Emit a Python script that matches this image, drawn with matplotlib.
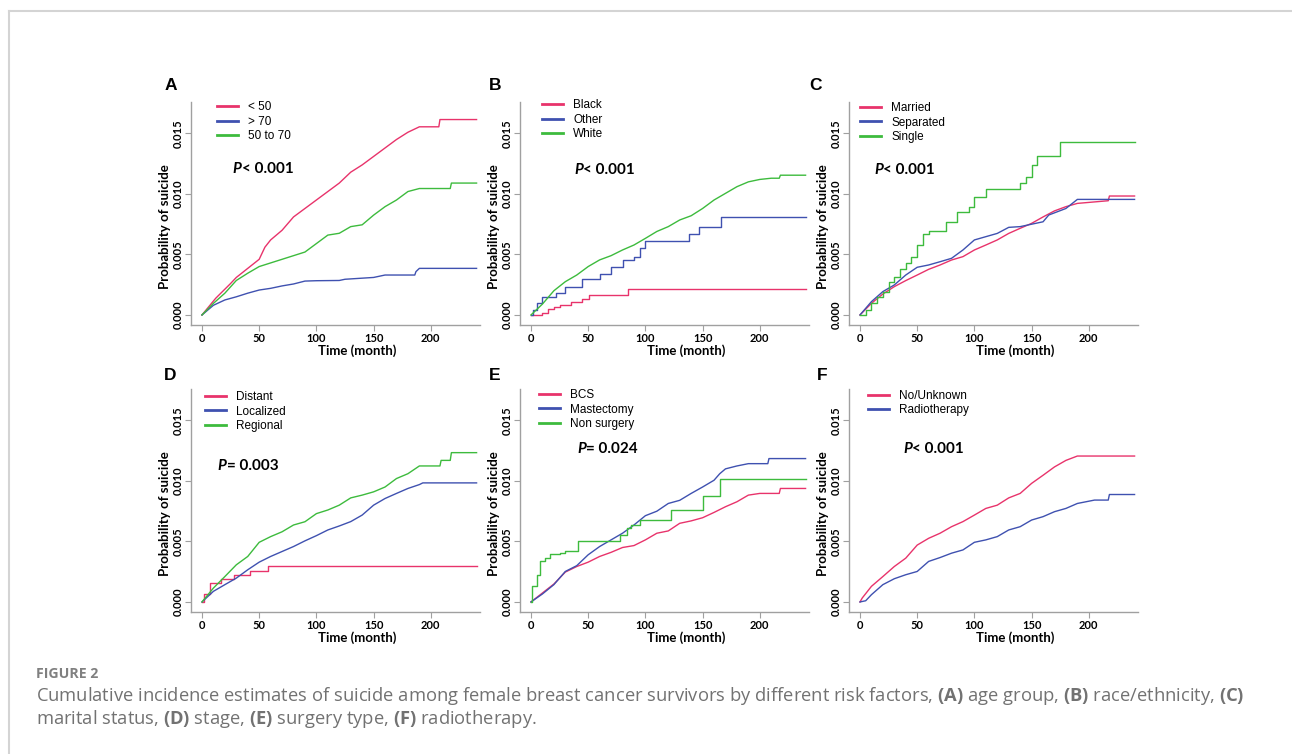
import numpy as np
import matplotlib
matplotlib.use("Agg")
import matplotlib.pyplot as plt
from matplotlib.lines import Line2D
from matplotlib.ticker import FormatStrFormatter

plt.rcParams['font.family'] = ['Lato', 'DejaVu Sans']
plt.rcParams['font.weight'] = 'bold'
plt.rcParams['mathtext.fontset'] = 'custom'
plt.rcParams['mathtext.rm'] = 'Open Sans'
plt.rcParams['mathtext.bf'] = 'Open Sans:bold'

RED = '#e8336b'
BLUE = '#3f51b0'
GREEN = '#3dbb3d'

# cumulative incidence, values in units of 0.001
# (A) age group
lt50_t = [0, 12, 25, 30, 40, 50, 55, 60, 70, 80, 90, 100, 110, 120, 130, 140, 150, 160, 170, 180, 190, 207, 208, 240]
lt50_p = [0, 1.38, 2.6, 3.1, 3.85, 4.6, 5.6, 6.2, 7.0, 8.1, 8.8, 9.5, 10.2, 10.9, 11.8, 12.4, 13.1, 13.8, 14.5, 15.1, 15.55, 15.55, 16.15, 16.15]
gt70_t = [0, 5, 10, 20, 30, 40, 50, 60, 70, 80, 90, 100, 120, 125, 150, 160, 186, 187, 190, 240]
gt70_p = [0, 0.4, 0.8, 1.24, 1.5, 1.8, 2.06, 2.2, 2.4, 2.56, 2.8, 2.83, 2.85, 2.95, 3.1, 3.3, 3.3, 3.58, 3.85, 3.85]
mid_t = [0, 10, 20, 30, 40, 50, 60, 70, 80, 90, 100, 110, 120, 130, 140, 150, 160, 170, 180, 190, 217, 218, 240]
mid_p = [0, 0.96, 1.8, 2.85, 3.45, 4.0, 4.3, 4.6, 4.9, 5.2, 5.9, 6.6, 6.75, 7.3, 7.45, 8.25, 8.95, 9.5, 10.2, 10.45, 10.45, 10.9, 10.9]

# (B) race/ethnicity
black_t = [0, 8, 10, 15, 20, 25, 35, 45, 51, 85, 240]
black_p = [0, 0, 0.2, 0.47, 0.63, 0.83, 1.1, 1.3, 1.62, 2.12, 2.12]
other_t = [0, 2, 5, 10, 22, 30, 45, 60, 70, 80, 90, 95, 100, 138, 147, 166, 240]
other_p = [0, 0.4, 1.0, 1.5, 1.85, 2.35, 3.0, 3.4, 4.0, 4.55, 4.8, 5.5, 6.15, 6.7, 7.3, 8.1, 8.1]
white_t = [0, 10, 20, 30, 40, 50, 60, 70, 80, 90, 100, 110, 120, 130, 140, 150, 160, 170, 180, 190, 200, 210, 217, 218, 240]
white_p = [0, 0.9, 2.0, 2.75, 3.3, 4.0, 4.55, 4.9, 5.37, 5.78, 6.33, 6.9, 7.3, 7.85, 8.2, 8.8, 9.5, 10.05, 10.6, 11.0, 11.2, 11.3, 11.3, 11.55, 11.55]

# (C) marital status
married_t = [0, 10, 20, 30, 40, 50, 60, 70, 80, 90, 100, 110, 120, 130, 140, 150, 160, 170, 180, 190, 217, 218, 240]
married_p = [0, 0.96, 1.73, 2.34, 2.84, 3.3, 3.77, 4.13, 4.54, 4.82, 5.37, 5.78, 6.2, 6.74, 7.16, 7.57, 8.1, 8.6, 8.95, 9.22, 9.44, 9.83, 9.83]
separated_t = [0, 10, 20, 30, 40, 50, 60, 70, 80, 90, 100, 110, 120, 130, 140, 150, 160, 165, 180, 190, 240]
separated_p = [0, 1.1, 1.93, 2.48, 3.3, 3.94, 4.13, 4.4, 4.68, 5.37, 6.2, 6.47, 6.74, 7.24, 7.3, 7.5, 7.7, 8.26, 8.8, 9.55, 9.55]
single_t = [0, 5, 10, 15, 20, 25, 30, 35, 40, 45, 50, 55, 60, 75, 85, 95, 100, 110, 140, 145, 150, 155, 175, 240]
single_p = [0, 0.4, 0.96, 1.5, 1.9, 2.75, 3.15, 3.77, 4.27, 4.8, 5.8, 6.7, 6.95, 7.7, 8.5, 8.95, 9.77, 10.45, 10.9, 11.4, 12.4, 13.1, 14.3, 14.3]

# (D) stage
distant_t = [0, 2, 7, 17, 28, 42, 58, 240]
distant_p = [0, 0.66, 1.56, 1.9, 2.2, 2.58, 3.0, 3.0]
localized_t = [0, 10, 20, 30, 40, 50, 60, 70, 80, 90, 100, 110, 120, 130, 140, 150, 160, 170, 180, 190, 193, 240]
localized_p = [0, 0.88, 1.43, 1.97, 2.66, 3.29, 3.76, 4.17, 4.58, 5.05, 5.48, 5.95, 6.28, 6.64, 7.18, 8.0, 8.55, 8.97, 9.38, 9.7, 9.84, 9.84]
regional_t = [0, 10, 20, 30, 40, 50, 60, 70, 80, 90, 100, 110, 120, 130, 140, 150, 160, 170, 180, 190, 208, 209, 217, 218, 240]
regional_p = [0, 1.15, 2.1, 3.07, 3.76, 4.93, 5.4, 5.8, 6.36, 6.63, 7.3, 7.6, 8.0, 8.6, 8.83, 9.1, 9.5, 10.2, 10.6, 11.24, 11.24, 11.7, 11.7, 12.34, 12.34]

# (E) surgery type
bcs_t = [0, 10, 20, 30, 40, 50, 60, 70, 80, 90, 100, 110, 120, 130, 140, 150, 160, 170, 180, 190, 200, 217, 218, 240]
bcs_p = [0, 0.74, 1.48, 2.47, 2.93, 3.29, 3.76, 4.1, 4.5, 4.66, 5.13, 5.68, 5.87, 6.5, 6.7, 6.96, 7.4, 7.87, 8.28, 8.83, 8.97, 8.97, 9.38, 9.38]
mast_t = [0, 10, 20, 30, 40, 50, 60, 70, 80, 90, 100, 110, 120, 130, 140, 150, 160, 165, 170, 180, 190, 207, 208, 240]
mast_p = [0, 0.66, 1.43, 2.52, 3.0, 3.9, 4.58, 5.13, 5.68, 6.36, 7.13, 7.5, 8.14, 8.4, 8.97, 9.5, 10.06, 10.6, 11.0, 11.24, 11.43, 11.43, 11.85, 11.85]
nonsurg_t = [0, 1, 5, 8, 12, 17, 25, 30, 41, 78, 84, 87, 95, 122, 150, 165, 240]
nonsurg_p = [0, 1.3, 2.25, 3.35, 3.6, 3.95, 4.05, 4.2, 5.05, 5.5, 6.1, 6.35, 6.8, 7.6, 8.77, 10.15, 10.15]

# (F) radiotherapy
nounk_t = [0, 2, 10, 20, 30, 40, 50, 60, 70, 80, 90, 100, 110, 120, 130, 140, 150, 160, 170, 180, 190, 240]
nounk_p = [0, 0.33, 1.29, 2.1, 2.93, 3.62, 4.7, 5.26, 5.68, 6.22, 6.64, 7.18, 7.73, 8.0, 8.6, 8.97, 9.8, 10.47, 11.16, 11.7, 12.06, 12.06]
radio_t = [0, 5, 10, 20, 30, 40, 50, 60, 70, 80, 90, 100, 110, 120, 130, 140, 150, 160, 170, 180, 190, 205, 217, 218, 240]
radio_p = [0, 0.1, 0.6, 1.43, 1.92, 2.25, 2.52, 3.35, 3.67, 4.03, 4.3, 4.93, 5.13, 5.4, 5.95, 6.22, 6.77, 7.05, 7.46, 7.73, 8.14, 8.42, 8.42, 8.88, 8.88]

# (label, times, values, colour, step drawing)
panels = [
    ('A', [('< 50', lt50_t, lt50_p, RED, False),
           ('> 70', gt70_t, gt70_p, BLUE, False),
           ('50 to 70', mid_t, mid_p, GREEN, False)],
     '< 0.001', (0.09, 1.004), (0.145, 0.70)),
    ('B', [('Black', black_t, black_p, RED, True),
           ('Other', other_t, other_p, BLUE, True),
           ('White', white_t, white_p, GREEN, False)],
     '< 0.001', (0.076, 1.013), (0.187, 0.695)),
    ('C', [('Married', married_t, married_p, RED, False),
           ('Separated', separated_t, separated_p, BLUE, False),
           ('Single', single_t, single_p, GREEN, True)],
     '< 0.001', (0.038, 1.0), (0.087, 0.695)),
    ('D', [('Distant', distant_t, distant_p, RED, True),
           ('Localized', localized_t, localized_p, BLUE, False),
           ('Regional', regional_t, regional_p, GREEN, False)],
     '= 0.003', (0.048, 0.991), (0.093, 0.655)),
    ('E', [('BCS', bcs_t, bcs_p, RED, False),
           ('Mastectomy', mast_t, mast_p, BLUE, False),
           ('Non surgery', nonsurg_t, nonsurg_p, GREEN, True)],
     '= 0.024', (0.066, 1.0), (0.197, 0.731)),
    ('F', [('No/Unknown', nounk_t, nounk_p, RED, False),
           ('Radiotherapy', radio_t, radio_p, BLUE, False)],
     '< 0.001', (0.066, 0.996), (0.187, 0.731)),
]

W, H = 1292, 754
fig = plt.figure(figsize=(W / 100, H / 100), dpi=100)

col_left = [191, 520, 849]
row_bottom = [325, 612]
ax_w, ax_h = 289, 223
letter_pos = [(171, 85), (495, 85), (815, 85), (170, 375), (495, 375), (822, 375)]

for i, (letter, series, ptxt, leg_anchor, p_pos) in enumerate(panels):
    r, c = divmod(i, 3)
    ax = fig.add_axes([col_left[c] / W, 1 - row_bottom[r] / H, ax_w / W, ax_h / H])
    for label, t, p, color, steps in series:
        ax.plot(t, np.array(p) / 1000.0, color=color, lw=1.0, label=label,
                drawstyle='steps-post' if steps else 'default')
    ax.set_xlim(-9.6, 243)
    ax.set_ylim(-0.00083, 0.0176)
    ax.set_xticks([0, 50, 100, 150, 200])
    ax.set_yticks([0, 0.005, 0.010, 0.015])
    ax.yaxis.set_major_formatter(FormatStrFormatter('%.3f'))
    for s in ['top', 'right']:
        ax.spines[s].set_visible(False)
    for s in ['left', 'bottom']:
        ax.spines[s].set_color('#a0a0a0')
        ax.spines[s].set_linewidth(1.0)
    ax.tick_params(direction='out', length=4, width=0.8, color='#a0a0a0',
                   labelsize=8, pad=2)
    ax.tick_params(axis='y', labelrotation=90, pad=1.5)
    plt.setp(ax.get_yticklabels(), va='center')
    ax.set_ylabel('Probability of suicide', fontsize=9.5, fontweight='bold')
    ax.yaxis.set_label_coords(-0.069, 0.44)
    ax.set_xlabel('Time (month)', fontsize=9.5, fontweight='bold')
    ax.xaxis.set_label_coords(0.574, -0.085)

    leg = ax.legend(loc='upper left', bbox_to_anchor=leg_anchor, frameon=False,
                    borderpad=0, borderaxespad=0, handlelength=1.8,
                    handletextpad=0.85, labelspacing=0.22,
                    prop={'family': 'Liberation Sans', 'weight': 'normal', 'size': 8.5})
    for h in leg.get_lines():
        h.set_linewidth(2.0)

    pt = ax.text(p_pos[0], p_pos[1], 'P', transform=ax.transAxes, fontsize=11,
                 fontweight='bold', fontstyle='italic', va='center', ha='left')
    ax.annotate(ptxt, xy=(1, 0.5), xycoords=pt, xytext=(0.3, 0),
                textcoords='offset points', fontsize=11, fontweight='bold',
                va='center', ha='left')

    lx, ly = letter_pos[i]
    fig.text(lx / W, 1 - ly / H, letter, fontsize=12.5, fontweight='bold',
             family='Liberation Sans', ha='center', va='center')

# page frame
fig.add_artist(Line2D([9 / W, 1], [1 - 11 / H, 1 - 11 / H], color='#d4d4d4', lw=1.5))
fig.add_artist(Line2D([9 / W, 9 / W], [0, 1 - 11 / H], color='#d4d4d4', lw=1.5))

# caption
cap_x = 36 / W
fig.text(cap_x, 1 - 674 / H, 'FIGURE 2', fontsize=10.2, fontweight='bold',
         family='Open Sans', color='#808080', va='center', ha='left')
cap1 = (r'Cumulative incidence estimates of suicide among female breast cancer survivors by '
        r'different risk factors, $\mathbf{(A)}$ age group, $\mathbf{(B)}$ race/ethnicity, $\mathbf{(C)}$')
cap2 = r'marital status, $\mathbf{(D)}$ stage, $\mathbf{(E)}$ surgery type, $\mathbf{(F)}$ radiotherapy.'
fig.text(cap_x, 1 - 696 / H, cap1, fontsize=13.2, fontweight='normal',
         family='Open Sans', color='#727272', va='center', ha='left')
fig.text(cap_x, 1 - 719 / H, cap2, fontsize=13.2, fontweight='normal',
         family='Open Sans', color='#727272', va='center', ha='left')

fig.savefig('out.png', dpi=100)
